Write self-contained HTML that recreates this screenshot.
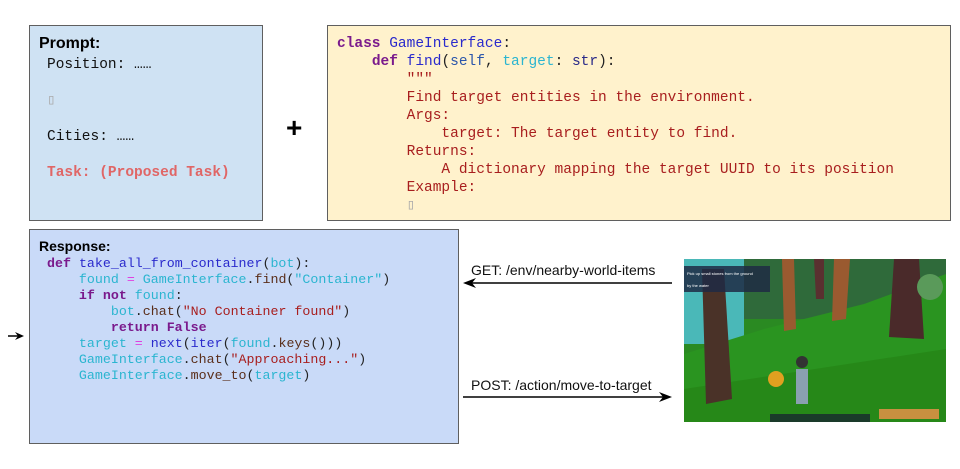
<!DOCTYPE html>
<html><head><meta charset="utf-8"><style>
body{margin:0;width:960px;height:469px;background:#fff;position:relative;overflow:hidden;font-family:"Liberation Sans",sans-serif}
.box{position:absolute;box-sizing:border-box;border:1.5px solid #5f5f5f}
.mono{font-family:"Liberation Mono",monospace;white-space:pre;position:absolute}
.kw{color:#7a1a8c;font-weight:bold}.fn{color:#2a2acc}.vr{color:#2bb5d0}.st{color:#a81e1e}.br{color:#5a2e1a}
.tl{position:absolute;font-size:14px;color:#111;white-space:nowrap}
</style></head><body>
<div class="box" style="left:29px;top:25px;width:234px;height:196px;background:#cfe2f3"></div>
<div style="position:absolute;left:39px;top:35px;font-weight:bold;font-size:16px;color:#000">Prompt:</div>
<div class="mono" style="left:47px;top:56px;font-size:14.5px;line-height:18px;color:#111">Position: ……

<span style="color:#aaa">▯</span>

Cities: ……

<span style="color:#e06666;font-weight:bold">Task: (Proposed Task)</span></div>

<div style="position:absolute;left:286px;top:112px;font-size:28px;font-weight:bold">+</div>

<div class="box" style="left:327px;top:25px;width:624px;height:196px;background:#fff2cc"></div>
<div class="mono" style="left:337px;top:35px;font-size:14.5px;line-height:18px;color:#222"><span class="kw">class</span> <span class="fn">GameInterface</span>:
    <span class="kw">def</span> <span class="fn">find</span>(<span style="color:#2a55aa">self</span>, <span class="vr">target</span>: <span style="color:#2a2a88">str</span>):
<span class="st">        """
        Find target entities in the environment.
        Args:
            target: The target entity to find.
        Returns:
            A dictionary mapping the target UUID to its position
        Example:
        <span style="color:#aaa">▯</span></span></div>

<div class="box" style="left:29px;top:229px;width:430px;height:215px;background:#c9daf8"></div>
<div style="position:absolute;left:39px;top:238px;font-weight:bold;font-size:14px;color:#000">Response:</div>
<div class="mono" style="left:47px;top:256px;font-size:13.3px;line-height:16px;color:#222"><span class="kw">def</span> <span class="fn">take_all_from_container</span>(<span class="vr">bot</span>):
    <span class="vr">found</span> <span style="color:#e040e0">=</span> <span class="vr">GameInterface</span>.<span class="br">find</span>(<span class="vr">"Container"</span>)
    <span class="kw">if not</span> <span class="vr">found</span>:
        <span class="vr">bot</span>.<span class="br">chat</span>(<span class="st">"No Container found"</span>)
        <span class="kw">return False</span>
    <span class="vr">target</span> <span style="color:#e040e0">=</span> <span class="fn">next</span>(<span class="fn">iter</span>(<span class="vr">found</span>.<span class="br">keys</span>()))
    <span class="vr">GameInterface</span>.<span class="br">chat</span>(<span class="st">"Approaching..."</span>)
    <span class="vr">GameInterface</span>.<span class="br">move_to</span>(<span class="vr">target</span>)</div>

<div class="tl" style="left:471px;top:262px">GET: /env/nearby-world-items</div>
<div class="tl" style="left:471px;top:377px">POST: /action/move-to-target</div>
<svg width="960" height="469" style="position:absolute;left:0;top:0">
<line x1="466" y1="283" x2="672" y2="283" stroke="#000" stroke-width="1.5"/>
<path d="M463 283 L476 278 L472 283 L476 288Z" fill="#000"/>
<line x1="463" y1="397" x2="669" y2="397" stroke="#000" stroke-width="1.5"/>
<path d="M672 397 L659 392 L663 397 L659 402Z" fill="#000"/>
<line x1="8" y1="336" x2="21" y2="336" stroke="#000" stroke-width="1.5"/>
<path d="M24 336 L15 332 L18 336 L15 340Z" fill="#000"/>
<g transform="translate(684,259)">
<rect width="262" height="163" fill="#2a8a22"/>
<rect width="262" height="60" fill="#2f6a3a"/>
<rect x="0" y="0" width="60" height="85" fill="#4ab8b8"/>
<path d="M0 95 L80 70 L180 45 L262 15 L262 163 L0 163Z" fill="#2a9420"/>
<path d="M0 130 L262 90 L262 163 L0 163Z" fill="#268818"/>
<path d="M18 10 L40 10 L48 140 L22 145Z" fill="#4a3228"/>
<path d="M98 0 L110 0 L112 70 L100 72Z" fill="#9a5a30"/>
<path d="M150 0 L166 0 L162 60 L148 62Z" fill="#9a5a30"/>
<path d="M210 0 L235 0 L240 80 L205 78Z" fill="#4a2a2a"/>
<path d="M130 0 L140 0 L140 40 L132 40Z" fill="#5a3030"/>
<rect x="0" y="7" width="86" height="26" fill="#1f2a44" opacity="0.85"/>
<text x="3" y="16" font-size="4" fill="#fff" font-family="Liberation Sans">Pick up small stones from the ground</text>
<text x="3" y="28" font-size="4" fill="#fff" font-family="Liberation Sans">by the water</text>
<circle cx="246" cy="28" r="13" fill="#5a9a5a"/>
<circle cx="92" cy="120" r="8" fill="#e0a020"/>
<rect x="112" y="110" width="12" height="35" fill="#8aa0b0"/>
<circle cx="118" cy="103" r="6" fill="#333"/>
<rect x="86" y="155" width="100" height="8" fill="#1a3a2a"/>
<rect x="195" y="150" width="60" height="10" fill="#c89040"/>
</g>
</svg>
</body></html>
